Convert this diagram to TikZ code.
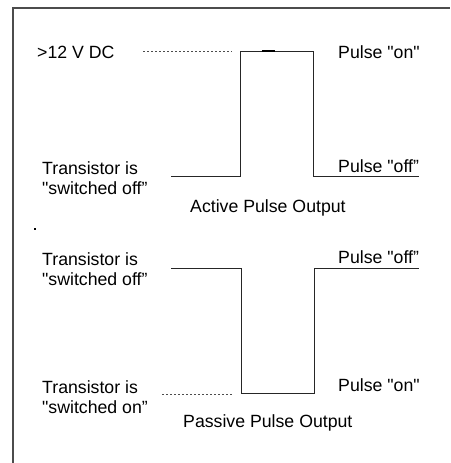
\documentclass[tikz,border=0pt]{standalone}
\usepackage{fontspec}
\setmainfont{Liberation Sans}[Ligatures=TeXOff]
\usepackage{tikz}
\usetikzlibrary{positioning}
\tikzset{
lbl/.style={
anchor=base west,
inner sep=0pt,
align=left,
font=\fontsize{17.7}{20}\selectfont
},
wave/.style={
line width=1pt,
black!85
},
level/.style={
line width=0.8pt,
dash pattern=on 2pt off 2pt,
black!70
},
frame/.style={
line width=2pt,
black!70
}
}

\begin{document}
\begin{tikzpicture}[x=1pt,y=-1pt]

\useasboundingbox (0,0) rectangle (450,463);

\draw[frame](13,463)--(13,8)--(450,8);

% active pulse output
\node[lbl](volt)at(37,58){>12 V DC};

\node[lbl](aoff)at(42,194){Transistor is\\"switched off”};

\node[lbl](apon)at(338,58){Pulse "on"};

\node[lbl](apoff)at(338,172){Pulse "off”};

\node[lbl](acap)at(190,212){Active Pulse Output};

\coordinate(a0)at(171,176);
\coordinate(a1)at(240,176);
\coordinate(a2)at(240,51);
\coordinate(a3)at(313,51);
\coordinate(a4)at(313,176);
\coordinate(a5)at(419,176);
\coordinate(adot)at(143,51);
\coordinate(adot2)at(232,51);

\draw[wave](a0)--(a1)--(a2)--(a3)--(a4)--(a5);

\draw[level](adot)--(adot2);

\draw[line width=2pt](262,51)--(275,51);

\fill(34,228)rectangle(36,230);

% passive pulse output
\node[lbl](poff)at(42,285){Transistor is\\"switched off”};

\node[lbl](pon)at(42,413){Transistor is\\"switched on”};

\node[lbl](ppoff)at(338,263){Pulse "off”};

\node[lbl](ppon)at(338,391){Pulse "on"};

\node[lbl](pcap)at(183,427){Passive Pulse Output};

\coordinate(p0)at(171,268);
\coordinate(p1)at(241,268);
\coordinate(p2)at(241,393);
\coordinate(p3)at(314,393);
\coordinate(p4)at(314,268);
\coordinate(p5)at(419,268);
\coordinate(pdot)at(162,394);
\coordinate(pdot2)at(232,394);

\draw[wave](p0)--(p1)--(p2)--(p3)--(p4)--(p5);

\draw[level](pdot)--(pdot2);

\end{tikzpicture}
\end{document}
